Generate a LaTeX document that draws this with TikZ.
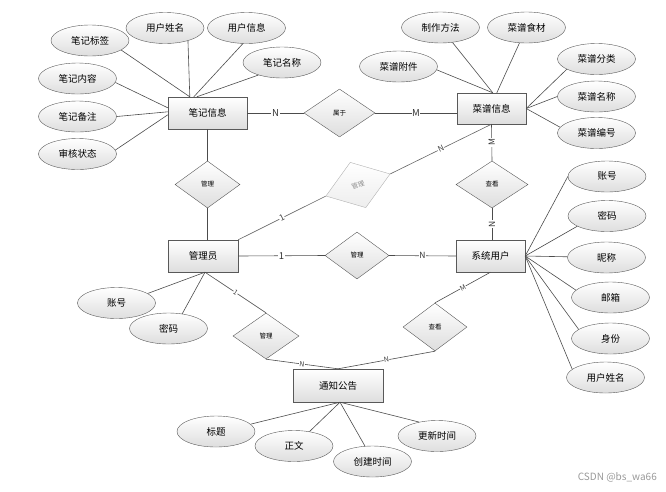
\documentclass[tikz,border=0pt]{standalone}
\usepackage{fontspec}
\setmainfont{Noto Sans CJK SC}
\usetikzlibrary{shapes.geometric,calc}
\begin{document}
\begin{tikzpicture}[x=1pt,y=-1pt,
  ent/.style={draw=black!65, rectangle, top color=white, bottom color=black!13,
    minimum width=#1, minimum height=32pt, inner sep=0pt, font=\fontsize{9.5}{10}\selectfont},
  ent/.default=70pt,
  attr/.style={draw=black!65, ellipse, top color=white, bottom color=black!13,
    minimum width=78pt, minimum height=31pt, inner sep=0pt, font=\fontsize{9.5}{10}\selectfont},
  rel/.style={draw=black!65, diamond, top color=white, bottom color=black!13,
    minimum width=#1, minimum height=47pt, inner sep=0pt, font=\fontsize{6.5}{7}\selectfont},
  rel/.default=66pt,
  ln/.style={draw=black!70, line width=0.6pt},
  card/.style={fill=white, inner sep=0.6pt, text=black!80, font=\fontsize{9.5}{10}\selectfont},
  cards/.style={fill=white, inner sep=0.4pt, text=black!75, font=\fontsize{7}{7}\selectfont, sloped}]
\useasboundingbox (0,0) rectangle (666,491);

% entities
\node[ent=79pt] (bj) at (207.5,113) {笔记信息};
\node[ent=69pt, minimum height=31pt] (cp) at (491.5,108.5) {菜谱信息};
\node[ent=70pt] (gly) at (203,256) {管理员};
\node[ent=69pt] (yh) at (490.5,256) {系统用户};
\node[ent=90pt, minimum height=33pt] (tz) at (338,385.5) {通知公告};

% attributes of 笔记信息
\node[attr] (a1) at (90,40.5) {笔记标签};
\node[attr] (a2) at (165,28) {用户姓名};
\node[attr] (a3) at (246.5,28) {用户信息};
\node[attr] (a4) at (282,62.5) {笔记名称};
\node[attr] (a5) at (77.5,78.5) {笔记内容};
\node[attr] (a6) at (77.5,116.5) {笔记备注};
\node[attr] (a7) at (77.5,154) {审核状态};

% attributes of 菜谱信息
\node[attr] (b1) at (440.5,27.5) {制作方法};
\node[attr] (b2) at (526.5,27.5) {菜谱食材};
\node[attr] (b3) at (398.5,66.5) {菜谱附件};
\node[attr] (b4) at (596.5,59) {菜谱分类};
\node[attr] (b5) at (596.5,96.5) {菜谱名称};
\node[attr] (b6) at (596.5,133) {菜谱编号};

% attributes of 系统用户
\node[attr] (c1) at (607,176.5) {账号};
\node[attr] (c2) at (607,216) {密码};
\node[attr] (c3) at (606.5,257.5) {昵称};
\node[attr] (c4) at (610.5,297.5) {邮箱};
\node[attr] (c5) at (610.5,338.5) {身份};
\node[attr] (c6) at (605.5,377.5) {用户姓名};

% attributes of 管理员
\node[attr] (d1) at (116.5,303) {账号};
\node[attr] (d2) at (168.5,328.5) {密码};

% attributes of 通知公告
\node[attr] (e1) at (216,431.5) {标题};
\node[attr] (e2) at (294,446) {正文};
\node[attr] (e3) at (372.5,461.5) {创建时间};
\node[attr] (e4) at (437,436) {更新时间};

% relationships
\node[rel=71pt, minimum height=48pt] (r1) at (339.5,113) {属于};
\node[rel=65pt] (r2) at (207.5,184.5) {管理};
\node[rel=68pt, minimum height=48pt, rotate=19, draw=black!30, top color=white,
  bottom color=black!7, text=black!45] (r3) at (358,185) {管理};
\node[rel=72pt] (r4) at (492,184.5) {查看};
\node[rel=64pt] (r5) at (357,255.5) {管理};
\node[rel=66pt, minimum height=46pt] (r6) at (266,336) {管理};
\node[rel=64pt, minimum height=48pt] (r7) at (435,327) {查看};

% attribute connectors: 笔记信息
\draw[ln] (a1.-17) -- ([xshift=22pt]bj.north west);
\draw[ln] (a2.-29) -- ([xshift=22pt]bj.north west);
\draw[ln] (a3.-103) -- ([xshift=26pt]bj.north west);
\draw[ln] (a4.208) -- ([xshift=29pt]bj.north west);
\draw[ln] (a5.-6) -- ([yshift=-11pt]bj.north west);
\draw[ln] (a6.east) -- ([yshift=-15pt]bj.north west);
\draw[ln] (a7.6) -- ([yshift=-18pt]bj.north west);

% attribute connectors: 菜谱信息
\draw[ln] (b3.-5) -- ([xshift=36pt]cp.north west);
\draw[ln] (b1) -- ([xshift=36pt]cp.north west);
\draw[ln] (b2) -- ([xshift=40pt]cp.north west);
\draw[ln] (b4.199) -- (cp.east);
\draw[ln] (b5.west) -- (cp.east);
\draw[ln] (b6.171) -- (cp.east);

% attribute connectors: 系统用户
\draw[ln] (c1.180) -- (yh.east);
\draw[ln] (c2.199) -- (yh.east);
\draw[ln] (c3) -- (yh.east);
\draw[ln] (c4.168) -- (yh.east);
\draw[ln] (c5.164) -- (yh.east);
\draw[ln] (c6.166) -- (yh.east);

% attribute connectors: 管理员
\draw[ln] (d1.17) -- ([xshift=2pt]gly.south);
\draw[ln] (d2.47) -- ([xshift=2pt]gly.south);

% attribute connectors: 通知公告
\draw[ln] (e1.12) -- ([xshift=2pt]tz.south);
\draw[ln] (e2.43) -- ([xshift=2pt]tz.south);
\draw[ln] (e3.116) -- ([xshift=2pt]tz.south);
\draw[ln] (e4.142) -- ([xshift=2pt]tz.south);

% relationship connectors
\draw[ln] (bj.east) -- node[card] {N} (r1.west);
\draw[ln] (r1.east) -- node[card] {M} (r1.east -| cp.west);
\draw[ln] (bj.south -| r2.north) -- (r2.north);
\draw[ln] (r2.south) -- (r2.south |- gly.north);
\draw[ln, draw=black!60] (r3.west) -- node[cards, font=\fontsize{8.5}{9}\selectfont] {1} (gly.north east);
\draw[ln, draw=black!60] (r3.east) -- node[cards, font=\fontsize{8}{8}\selectfont] {N} (cp.south);
\draw[ln] (cp.south) -- node[card, rotate=90, font=\fontsize{8.5}{9}\selectfont] {M} (r4.north);
\draw[ln] (r4.south) -- node[card, rotate=90, font=\fontsize{8.5}{9}\selectfont] {N} (r4.south |- yh.north);
\draw[ln] (gly.east) -- node[card] {1} (r5.west);
\draw[ln] (r5.east) -- node[card, font=\fontsize{8.5}{9}\selectfont] {N} (yh.west);
\draw[ln] ([xshift=2pt]gly.south) -- node[cards] {1} (r6.north);
\draw[ln] (r6.south) -- node[cards] {N} (tz.north);
\draw[ln] (yh.south) -- node[cards] {M} (r7.north);
\draw[ln] (r7.south) -- node[cards] {N} (tz.north);

% watermark
\node[anchor=east, text=black!40, font=\fontsize{10}{10}\selectfont, inner sep=0pt] (wm) at (657,477) {CSDN @bs\_wa66};
\end{tikzpicture}
\end{document}
